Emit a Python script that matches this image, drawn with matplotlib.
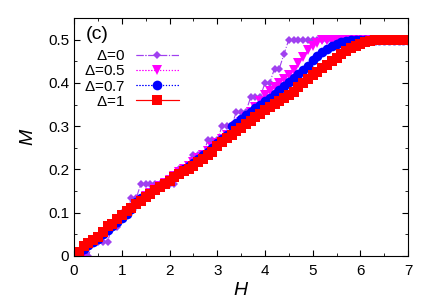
import numpy as np
import matplotlib
matplotlib.use("Agg")
import matplotlib.pyplot as plt
from matplotlib.container import ErrorbarContainer
from matplotlib.legend_handler import HandlerErrorbar
from matplotlib.ticker import MultipleLocator

plt.rcParams['font.family'] = ['Liberation Sans', 'DejaVu Sans']
plt.rcParams['mathtext.fontset'] = 'custom'
plt.rcParams['mathtext.it'] = 'Liberation Sans:italic'
plt.rcParams['mathtext.rm'] = 'Liberation Sans'

H = [0.0, 0.1, 0.2, 0.3, 0.4, 0.5, 0.6, 0.7, 0.8, 0.9,
     1.0, 1.1, 1.2, 1.3, 1.4, 1.5, 1.6, 1.7, 1.8, 1.9,
     2.0, 2.1, 2.2, 2.3, 2.4, 2.5, 2.6, 2.7, 2.8, 2.9,
     3.0, 3.1, 3.2, 3.3, 3.4, 3.5, 3.6, 3.7, 3.8, 3.9,
     4.0, 4.1, 4.2, 4.3, 4.4, 4.5, 4.6, 4.7, 4.8, 4.9,
     5.0, 5.1, 5.2, 5.3, 5.4, 5.5, 5.6, 5.7, 5.8, 5.9,
     6.0, 6.1, 6.2, 6.3, 6.4, 6.5, 6.6, 6.7, 6.8, 6.9, 7.0]

M_d0 = [0, 0, 0, 0, 0.033, 0.033, 0.033, 0.033, 0.067, 0.067,
        0.1, 0.1, 0.133, 0.133, 0.167, 0.167, 0.167, 0.167, 0.167, 0.167,
        0.167, 0.167, 0.2, 0.2, 0.2, 0.233, 0.233, 0.233, 0.267, 0.267,
        0.267, 0.3, 0.3, 0.3, 0.333, 0.333, 0.333, 0.367, 0.367, 0.367,
        0.4, 0.4, 0.433, 0.433, 0.467, 0.5, 0.5, 0.5, 0.5, 0.5,
        0.5, 0.5, 0.5, 0.5, 0.5, 0.5, 0.5, 0.5, 0.5, 0.5,
        0.5, 0.5, 0.5, 0.5, 0.5, 0.5, 0.5, 0.5, 0.5, 0.5, 0.5]

M_d05 = [0, 0, 0.005, 0.018, 0.03, 0.04, 0.05, 0.06, 0.067, 0.078,
         0.088, 0.098, 0.108, 0.12, 0.13, 0.138, 0.146, 0.154, 0.162, 0.168,
         0.176, 0.184, 0.193, 0.2, 0.208, 0.217, 0.226, 0.234, 0.242, 0.251,
         0.26, 0.27, 0.28, 0.29, 0.3, 0.31, 0.321, 0.333, 0.345, 0.358,
         0.372, 0.381, 0.39, 0.4, 0.409, 0.418, 0.43, 0.445, 0.46, 0.475,
         0.485, 0.493, 0.498, 0.5, 0.5, 0.5, 0.5, 0.5, 0.5, 0.5,
         0.5, 0.5, 0.5, 0.5, 0.5, 0.5, 0.5, 0.5, 0.5, 0.5, 0.5]

M_d07 = [0, 0.005, 0.015, 0.025, 0.033, 0.04, 0.05, 0.06, 0.068, 0.078,
         0.088, 0.098, 0.108, 0.125, 0.133, 0.138, 0.146, 0.154, 0.162, 0.168,
         0.176, 0.184, 0.192, 0.2, 0.207, 0.215, 0.224, 0.233, 0.24, 0.25,
         0.26, 0.27, 0.28, 0.3, 0.308, 0.316, 0.325, 0.333, 0.341, 0.349,
         0.357, 0.366, 0.375, 0.384, 0.393, 0.402, 0.411, 0.42, 0.43, 0.44,
         0.452, 0.463, 0.472, 0.479, 0.485, 0.49, 0.494, 0.497, 0.499, 0.5,
         0.5, 0.5, 0.5, 0.5, 0.5, 0.5, 0.5, 0.5, 0.5, 0.5, 0.5]

M_d1 = [0, 0.01, 0.022, 0.03, 0.037, 0.044, 0.055, 0.068, 0.074, 0.085,
        0.094, 0.104, 0.11, 0.12, 0.128, 0.136, 0.144, 0.152, 0.159, 0.166,
        0.174, 0.182, 0.19, 0.196, 0.2, 0.208, 0.216, 0.225, 0.233, 0.24,
        0.255, 0.263, 0.272, 0.28, 0.288, 0.296, 0.304, 0.313, 0.321, 0.329,
        0.337, 0.344, 0.351, 0.358, 0.364, 0.372, 0.38, 0.39, 0.4, 0.41,
        0.418, 0.426, 0.434, 0.442, 0.45, 0.458, 0.466, 0.474, 0.48, 0.486,
        0.491, 0.494, 0.497, 0.498, 0.499, 0.5, 0.5, 0.5, 0.5, 0.5, 0.5]

labels = [r'$\mathit{\Delta}$=0', r'$\mathit{\Delta}$=0.5',
          r'$\mathit{\Delta}$=0.7', r'$\mathit{\Delta}$=1']
colors = ['#a040f0', '#ff00ff', '#0000ff', '#ff0000']
markers = ['D', 'v', 'o', 's']
msizes = [4.5, 6.5, 7, 7]
styles = ['-.', ':', ':', '-']
series = [M_d0, M_d05, M_d07, M_d1]

fig = plt.figure(figsize=(4.36, 3.05), dpi=100)
ax = fig.add_axes([0.17, 0.161, 0.766, 0.78])

handles = []
for M, c, mk, ms, ls, lab in zip(series, colors, markers, msizes, styles, labels):
    ax.plot(H, M, color=c, marker=mk, markersize=ms, linestyle=ls,
            linewidth=0.8, markeredgewidth=0)
    h = ax.errorbar([np.nan], [np.nan], xerr=[1], color=c, marker=mk,
                    markersize=ms, linestyle=ls, linewidth=0.8,
                    markeredgewidth=0, capsize=3, elinewidth=0.8, label=lab)
    h[2][0].set_linestyle(ls)
    handles.append(h)

ax.set_xlim(0, 7)
ax.set_ylim(0, 0.55)
ax.xaxis.set_major_locator(MultipleLocator(1))
ax.xaxis.set_minor_locator(MultipleLocator(0.5))
ax.yaxis.set_minor_locator(MultipleLocator(0.05))
ax.set_yticks([0, 0.1, 0.2, 0.3, 0.4, 0.5])
ax.set_yticklabels(['0', '0.1', '0.2', '0.3', '0.4', '0.5'])
ax.tick_params(which='both', direction='in', top=True, right=True,
               labelsize=11)
ax.tick_params(axis='x', pad=6)
ax.tick_params(which='major', length=4)
ax.tick_params(which='minor', length=2)
ax.set_xlabel('$H$', fontsize=14, labelpad=3)
ax.set_ylabel('$M$', fontsize=14, labelpad=8)

ax.text(0.035, 0.965, '(c)', transform=ax.transAxes, fontsize=14,
        va='top', ha='left')

ax.legend(handles=handles, loc='upper left', bbox_to_anchor=(0.01, 0.895),
          frameon=False, markerfirst=False, fontsize=11, handlelength=2.8,
          labelspacing=0.08, handletextpad=0.7, borderaxespad=0,
          handler_map={ErrorbarContainer: HandlerErrorbar(xerr_size=1.4)})

fig.savefig('out.png', dpi=100)
